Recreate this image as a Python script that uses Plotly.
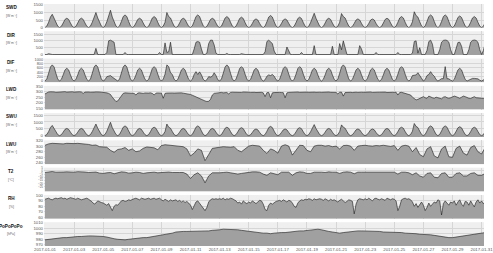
import plotly.graph_objects as go
from plotly.subplots import make_subplots
import pandas as pd

# ---------------- data (3-hourly, per day: 00,03,06,09,12,15,18,21) ----------------
swd_days = [
    [0,95,350,700,880,635,350,95],[0,80,300,540,620,540,300,80],[0,80,300,540,625,540,300,80],
    [0,95,350,635,1000,635,350,95],[0,105,385,750,1150,695,385,105],[0,110,400,730,840,730,400,110],
    [0,80,300,540,620,540,300,80],[0,95,350,635,730,635,350,95],[0,95,350,1000,730,635,350,95],
    [0,80,300,540,620,540,300,80],[0,110,400,730,840,730,400,110],[0,80,300,540,615,540,300,80],
    [0,95,350,635,730,635,350,95],[0,90,330,600,690,600,330,90],[0,75,275,500,575,500,275,75],
    [0,105,385,695,800,695,385,105],[0,75,275,500,575,500,275,75],[0,90,330,600,690,600,330,90],
    [0,90,335,610,950,610,335,90],[0,80,300,540,620,540,300,80],[0,95,350,930,730,635,350,95],
    [0,75,275,500,575,500,275,75],[0,75,275,500,570,500,275,75],[0,80,300,540,620,540,300,80],
    [0,95,350,635,730,635,350,95],[0,105,385,1050,800,695,385,105],[0,110,400,730,840,730,400,110],
    [0,110,400,730,840,730,400,110],[0,100,370,670,770,670,370,100],[0,95,350,635,730,635,350,95],
    [0,90,335,610,700,610,335,90],
]
dir_days = [
    [0,0,60,0,0,0,0,0],[0,0,0,0,0,0,0,0],[0,0,0,0,0,0,0,0],
    [0,0,0,0,450,0,0,0],[0,0,150,1000,1050,1000,900,0],[0,0,0,0,150,0,0,0],
    [0,0,0,0,0,0,0,0],[0,0,0,0,0,0,0,150],[0,0,850,150,200,900,0,0],
    [0,0,0,0,0,0,0,0],[0,0,400,900,950,900,400,0],[0,100,800,1050,1050,700,100,0],
    [0,0,0,0,80,0,0,0],[0,0,0,0,60,0,0,0],[0,0,0,0,0,0,0,0],
    [0,200,950,1050,950,800,250,0],[0,0,0,0,0,550,300,0],[0,0,0,0,0,150,0,0],
    [0,0,0,0,650,0,0,0],[0,0,0,0,0,0,600,0],[0,0,800,350,1000,500,0,0],
    [0,0,0,0,0,650,400,0],[0,0,0,0,0,0,150,0],[0,0,0,0,0,0,0,0],
    [0,0,150,0,0,0,0,0],[0,0,100,950,1000,100,500,0],[0,0,300,950,1050,750,0,0],
    [0,350,900,1030,1060,1030,900,350],[0,0,500,880,900,600,0,0],[0,350,900,1030,1060,1030,900,350],
    [0,300,800,950,980,800,400,0],
]
dif_days = [
    [0,95,355,645,740,645,355,95],[0,75,280,510,585,510,280,75],[0,75,280,510,590,510,280,75],
    [0,95,355,645,740,645,355,95],[0,60,200,220,250,180,120,40],[0,95,355,645,740,645,355,95],
    [0,75,280,510,585,510,280,75],[0,85,315,575,660,575,315,85],[0,85,315,740,660,380,300,85],
    [0,75,280,510,585,510,280,75],[0,80,300,430,300,420,280,80],[0,60,200,180,220,380,250,60],
    [0,95,355,645,740,645,355,95],[0,85,315,575,660,575,315,85],[0,75,280,510,585,510,280,75],
    [0,60,220,280,250,300,220,70],[0,85,315,575,660,575,315,85],[0,85,315,575,660,575,315,85],
    [0,75,280,510,585,510,280,75],[0,75,280,510,585,510,280,75],[0,95,355,645,740,645,355,95],
    [0,75,280,510,585,510,280,75],[0,75,280,510,585,510,280,75],[0,75,280,510,585,510,280,75],
    [0,85,315,575,660,575,315,85],[0,70,250,250,280,380,250,70],[0,70,250,300,430,300,220,70],
    [0,50,110,110,660,110,100,40],[0,75,280,510,585,510,280,75],[0,50,110,120,120,110,100,40],
    [0,50,110,120,120,110,100,40],
]
swu_days = [
    [0,80,300,595,750,540,300,80],[0,70,255,460,530,460,255,70],[0,70,255,460,530,460,255,70],
    [0,80,300,540,850,540,300,80],[0,90,325,640,980,590,325,90],[0,95,345,620,715,620,345,95],
    [0,70,255,460,530,460,255,70],[0,80,300,540,620,540,300,80],[0,80,300,850,620,540,300,80],
    [0,70,255,460,530,460,255,70],[0,95,345,620,715,620,345,95],[0,70,255,460,530,460,255,70],
    [0,80,300,540,620,540,300,80],[0,75,280,510,585,510,280,75],[0,65,235,425,490,425,235,65],
    [0,90,325,590,680,590,325,90],[0,65,235,425,490,425,235,65],[0,75,280,510,585,510,280,75],
    [0,80,290,520,810,520,290,80],[0,70,255,460,530,460,255,70],[0,80,300,790,620,540,300,80],
    [0,65,235,425,490,425,235,65],[0,65,235,425,490,425,235,65],[0,70,255,460,530,460,255,70],
    [0,80,300,540,620,540,300,80],[0,90,325,890,680,590,325,90],[0,95,345,620,715,620,345,95],
    [0,95,345,620,715,620,345,95],[0,85,315,570,655,570,315,85],[0,80,300,540,620,540,300,80],
    [0,80,290,520,600,520,290,80],
]
lwd_days = [
    [280,290,298,300,296,299,295,297],[298,300,296,301,297,299,296,300],[297,299,295,300,298,285,297,300],
    [298,296,300,297,299,295,298,296],[295,293,290,285,275,250,225,210],[215,240,270,285,290,288,286,284],
    [288,285,270,288,290,287,285,289],[286,288,290,285,270,287,289,286],[287,240,285,288,290,287,289,288],
    [290,289,288,290,287,285,283,280],[275,268,260,250,240,232,225,220],[215,210,212,230,270,285,288,290],
    [292,294,290,295,293,280,294,296],[295,297,293,296,294,298,295,293],[296,294,297,295,293,296,298,295],
    [290,255,292,294,245,290,293,295],[296,294,293,292,245,290,294,296],[295,297,296,298,295,297,296,294],
    [297,295,298,296,297,295,298,296],[295,297,294,296,298,295,293,296],[294,280,296,297,260,293,295,296],
    [295,293,297,296,294,298,296,295],[297,295,296,298,294,297,295,296],[296,298,295,297,293,296,298,295],
    [294,296,270,293,295,290,288,285],[280,270,250,235,225,230,240,250],[255,245,240,260,250,245,240,250],
    [245,240,235,250,255,245,240,245],[250,260,255,245,240,250,260,255],[245,240,238,250,255,245,240,242],
    [240,238,245,250,245,240,238,240],
]
rh_days = [
    [93,94,95,93,92,94,95,94],[95,96,94,95,93,95,96,95],[94,93,95,94,92,93,94,95],
    [93,91,88,84,86,90,88,87],[86,84,82,85,78,72,80,83],[82,86,90,91,89,90,92,91],
    [93,94,95,94,92,95,94,93],[94,95,93,94,95,93,94,95],[92,90,93,91,89,92,90,91],
    [92,89,91,88,90,87,89,86],[82,74,80,88,90,86,80,78],[72,78,88,92,94,93,94,93],
    [94,93,95,92,94,93,95,94],[92,90,86,88,84,90,87,85],[88,86,90,87,85,88,91,90],
    [84,74,72,82,86,84,87,89],[90,91,89,92,90,88,91,90],[86,80,78,86,90,92,91,93],
    [92,94,93,91,94,92,93,94],[93,91,94,92,90,93,91,92],[90,88,91,93,90,87,89,92],
    [91,89,66,84,92,94,93,92],[94,92,95,93,90,94,95,93],[92,94,93,91,95,93,92,94],
    [93,90,72,80,92,94,95,93],[94,92,88,80,85,78,84,88],[82,72,78,86,80,84,88,86],
    [92,90,64,85,90,86,82,88],[86,90,82,88,92,84,80,89],[88,82,90,84,79,88,92,86],
    [90,85,88,92,86,84,89,90],
]
# 6-hourly, per day: 00,06,12,18
lwu_days = [
    [303,308,310,309],[309,308,310,309],[309,310,309,308],[306,303,304,298],[297,296,285,278],
    [288,290,295,285],[290,280,283,292],[297,296,294,287],[302,305,304,303],[300,299,298,290],
    [265,275,290,285],[248,270,292,294],[297,298,297,296],[298,285,280,290],[300,303,302,300],
    [285,274,290,285],[275,300,305,300],[268,285,303,302],[285,280,300,303],[303,300,302,298],
    [300,290,302,303],[300,285,300,302],[303,301,300,302],[301,303,300,299],[302,285,300,303],
    [300,280,295,270],[262,290,298,265],[258,290,300,262],[260,292,300,275],[268,295,302,280],
    [272,295,300,285],
]
t2_days = [
    [-2.5,-1.5,-1,-2],[-2.5,-1.8,-1.5,-2.3],[-2,-1.2,-1,-1.8],[-2.5,-2,-1.8,-3.5],[-4,-3,-2.5,-4.5],
    [-3,-1.5,-2,-3.5],[-3,-2,-2.5,-4],[-3,-2,-2,-3],[-2.5,-2,-1.8,-2.5],[-3,-2.5,-2.5,-5],
    [-12,-6,-3,-8],[-19,-8,-3,-3.5],[-3,-2.5,-2,-3],[-3.5,-5,-4,-3],[-2,-1.5,-1.5,-2],
    [-5,-7,-3,-5],[-6,-2,-1.5,-2],[-7,-3,-1.5,-2],[-4,-4,-2,-1.5],[-2,-2.5,-1.5,-2],
    [-2,-4,-2,-1.5],[-2,-4.5,-2,-2],[-2,-2,-1.5,-2],[-2,-1.5,-1.5,-2],[-2,-5,-2,-2],
    [-3,-6,-3,-8],[-10,-4,-3,-10],[-11,-4,-3,-10],[-10,-4,-3,-8],[-8,-4,-3,-7],
    [-7,-4,-3,-6],
]
p_days = [
    [979,980,981,981],[982,983,983,984],[984,985,985,986],[986,986,986,986],[985,984,982,981],
    [980,979,979,980],[981,981,982,983],[983,984,985,986],[987,988,989,991],[993,994,994,994],
    [994,995,995,995],[995,995,996,996],[997,998,998,998],[998,997,996,995],[995,994,993,992],
    [991,991,990,991],[992,992,992,993],[994,995,995,995],[996,997,998,998],[997,995,994,993],
    [992,991,992,993],[994,995,995,995],[995,994,994,994],[994,993,993,993],[993,992,992,991],
    [991,990,990,989],[989,989,988,987],[986,984,983,983],[983,984,985,987],[988,989,990,991],
    [991,992,992,992],
]

names = ["SWD", "DIR", "DIF", "LWD", "SWU", "LWU", "T2", "RH", "PoPoPoPo"]
units = ["[W m\u207b\u00b2]"] * 6 + ["[\u00b0C]", "[%]", "[hPa]"]
yticks = [
    [0, 500, 1000, 1500], [0, 500, 1000, 1500], [0, 200, 400, 600, 800, 1000],
    [150, 200, 250, 300, 350], [0, 500, 1000, 1500], [240, 260, 280, 300, 320],
    [-25, -20, -15, -10, -5, 0, 5], [60, 70, 80, 90, 100], [970, 980, 990, 1000, 1010],
]
yranges = [
    [-15, 1565], [-40, 1700], [-60, 1030], [135, 355], [-90, 1650],
    [235.5, 320.5], [-32.7, 5.2], [57, 101], [968, 1010.5],
]
tick_sizes = [4.3, 4.3, 3.8, 4.3, 4.3, 4.3, 3.0, 4.3, 4.3]

flat = lambda days: [v for d in days for v in d]
t3 = pd.date_range("2017-01-01", periods=len(flat(swd_days)), freq="3h")
t6 = pd.date_range("2017-01-01", periods=len(flat(lwu_days)), freq="6h")

data = [
    (t3, flat(swd_days)), (t3, flat(dir_days)), (t3, flat(dif_days)), (t3, flat(lwd_days)),
    (t3, flat(swu_days)), (t6, flat(lwu_days)), (t6, flat(t2_days)), (t3, flat(rh_days)),
    (t6, flat(p_days)),
]

W, H = 493, 253
ML, MR, MT, MB = 44, 0, 4, 7
PH = H - MT - MB
gap = 3.5
fig = make_subplots(rows=9, cols=1, shared_xaxes=True, vertical_spacing=gap / PH)

FILL = "#a0a0a0"
for i, (tx, ty) in enumerate(data):
    r = i + 1
    lo = yranges[i][0]
    fig.add_trace(go.Scatter(x=tx, y=[lo] * len(ty), mode="lines", line=dict(width=0),
                             hoverinfo="skip", showlegend=False), row=r, col=1)
    fig.add_trace(go.Scatter(x=tx, y=ty, mode="lines", fill="tonexty", fillcolor=FILL,
                             line=dict(color="#1a1a1a", width=0.6), showlegend=False), row=r, col=1)
    fig.update_yaxes(row=r, col=1, range=yranges[i], tickvals=yticks[i],
                     showgrid=True, gridcolor="#d6d6d6", gridwidth=0.6, zeroline=False,
                     tickfont=dict(size=tick_sizes[i], color="#555555", family="Liberation Sans"),
                     ticks="", ticklen=0, showline=False)

xr = ["2016-12-31 22:23", "2017-01-31 04:00"]
for r in range(1, 10):
    fig.update_xaxes(row=r, col=1, range=xr, type="date", tick0="2017-01-01", dtick=2 * 86400000,
                     tickformat="%Y-%m-%d", showgrid=True, gridcolor="#d6d6d6", gridwidth=0.6,
                     showticklabels=(r == 9), ticks="", zeroline=False, showline=False,
                     tickfont=dict(size=4.3, color="#555555", family="Liberation Sans"),
                     ticklabeloverflow="allow")

# annotations: variable names and units
for i in range(9):
    dom = fig.layout["yaxis" if i == 0 else f"yaxis{i+1}"].domain
    top_px = MT + (1 - dom[1]) * PH
    for txt, dy, fs, col, bold in [(names[i], 3.8, 4.6, "#111111", True), (units[i], 12, 3.4, "#666666", False)]:
        fig.add_annotation(xref="paper", yref="paper", x=(10.5 - ML) / (W - ML - MR),
                           y=1 - (top_px + dy - MT) / PH, text=(f"<b>{txt}</b>" if bold else txt),
                           showarrow=False, xanchor="center", yanchor="middle",
                           font=dict(size=fs, color=col, family="Liberation Sans"))

fig.update_layout(width=W, height=H, margin=dict(l=ML, r=MR, t=MT, b=MB),
                  paper_bgcolor="white", plot_bgcolor="#efefef", showlegend=False)
fig.write_html("out.html")
